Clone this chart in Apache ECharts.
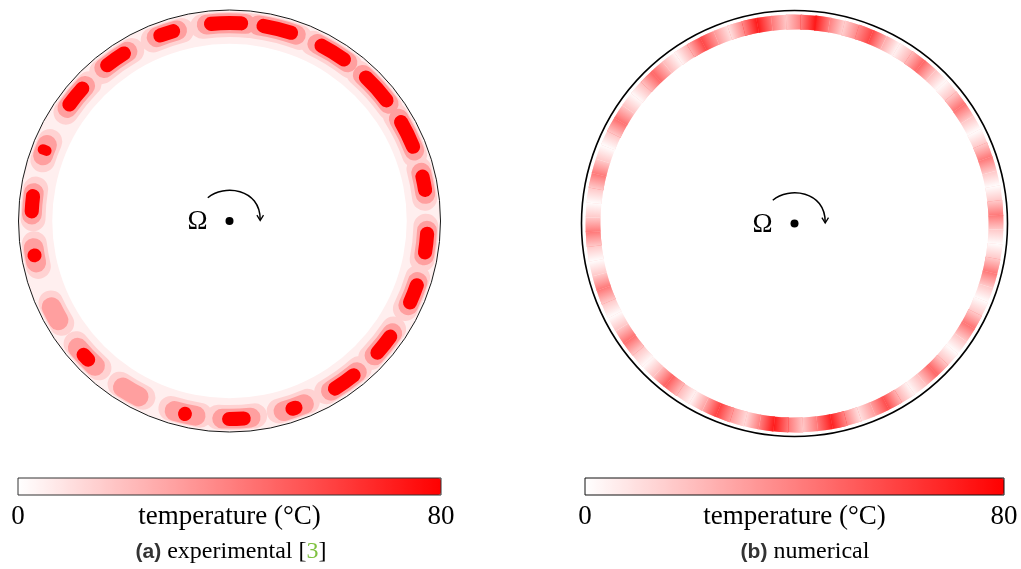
<!DOCTYPE html>
<html>
<head>
<meta charset="utf-8">
<script src="https://cdn.jsdelivr.net/npm/echarts@6/dist/echarts.min.js"></script>
<style>
html,body{margin:0;padding:0;background:#ffffff;}
#main{width:1021px;height:569px;}
</style>
</head>
<body>
<div id="main"></div>
<script>
// ================= DATA =================
const tempMin = 0;
const tempMax = 80;
const tickInterval = 80;
const colorbarName = 'temperature (°C)';
const rotationLabel = 'Ω';

// (a) experimental: hot-spot centres (deg, clockwise from top) and angular widths (deg)
// of the contour levels; radii are normalised to the disk radius.
const expBlobAngle = [359, 14, 31.5, 48, 64, 79, 96.4, 111.6, 128.7, 144.5, 161, 178, 193, 210, 226.5, 242, 260, 275, 291, 309, 324.8, 341.5];
const expCoreSpan  = [12.8, 12.3, 11.7, 13, 12, 8, 9.5, 9.4, 10, 10.7, 5, 8.3, 4, 0, 6, 0, 4, 8.5, 3, 10, 10, 8];
const expHaloSpan  = [17, 17, 16, 17, 16, 12, 13, 13, 14, 15, 12, 14, 12, 11, 13, 10, 10, 12, 9, 14, 14, 12];
const expOuterSpan = [21, 21, 20, 21, 20, 16, 17, 17, 18, 19, 16, 18, 16, 15, 17, 14, 14, 16, 13, 18, 18, 16];
const expLevelTemp = [5, 14, 30, 80];            // band, outer halo, halo, core
const expBandRadius  = [0.84, 0.998];
const expOuterRadius = [0.872, 0.99];
const expHaloRadius  = [0.89, 0.984];
const expCoreRadius  = [0.905, 0.972];

// (b) numerical: temperature sampled evenly around the ring, starting at numStartAngle
const numStartAngle = 5.8;
const numTemps = [
  72, 40, 15, 36,   58, 26, 4, 22,   48, 20, 2, 18,   44, 18, 1, 17,
  42, 17, 1, 17,    42, 17, 1, 17,   42, 17, 1, 17,   44, 18, 1, 18,
  48, 20, 3, 24,    56, 30, 10, 38,  70, 42, 18, 42,  72, 40, 12, 32,
  60, 28, 4, 22,    50, 20, 2, 18,   45, 18, 1, 17,   42, 17, 1, 17,
  42, 17, 1, 17,    42, 17, 1, 18,   45, 19, 2, 20,   48, 22, 3, 25,
  58, 32, 10, 38,   72, 42, 18, 40
];
const numRingRadius = [0.911, 0.981];
const centerPoint = [[0, 0]];

// ================= BUILD SERIES DATA =================
function norm(a) { return ((a % 360) + 360) % 360; }

const expData = [];
expData.push([expBandRadius[0], 0, expBandRadius[1], 360, expLevelTemp[0]]);
[[expOuterSpan, expOuterRadius, expLevelTemp[1]],
 [expHaloSpan, expHaloRadius, expLevelTemp[2]],
 [expCoreSpan, expCoreRadius, expLevelTemp[3]]].forEach(function (lvl) {
  expBlobAngle.forEach(function (c, i) {
    const w = lvl[0][i];
    if (w > 0) expData.push([lvl[1][0], norm(c - w / 2), lvl[1][1], norm(c + w / 2), lvl[2]]);
  });
});

const numStep = 360 / numTemps.length;
const numBase = [], numOver = [];
numTemps.forEach(function (t, k) {
  const a0 = norm(numStartAngle + k * numStep);
  const a1 = norm(numStartAngle + (k + 1) * numStep);
  const tNext = numTemps[(k + 1) % numTemps.length];
  numBase.push([numRingRadius[0], a0, numRingRadius[1], a1, tNext]);
  numOver.push([numRingRadius[0], a0, numRingRadius[1], a1, t]);
});

// ================= RENDERING =================
function sectorShape(params, api) {
  const cs = params.coordSys;
  const pA = api.coord([api.value(0), api.value(1)]);
  const pB = api.coord([api.value(2), api.value(3)]);
  const r0 = Math.hypot(pA[0] - cs.cx, pA[1] - cs.cy);
  const r = Math.hypot(pB[0] - cs.cx, pB[1] - cs.cy);
  const sa = Math.atan2(pA[1] - cs.cy, pA[0] - cs.cx);
  let ea = Math.atan2(pB[1] - cs.cy, pB[0] - cs.cx);
  const span = norm(api.value(3) - api.value(1));
  if (span === 0) { ea = sa + 2 * Math.PI; }
  else { while (ea <= sa) ea += 2 * Math.PI; }
  return { cx: cs.cx, cy: cs.cy, r0: r0, r: r, startAngle: sa, endAngle: ea, clockwise: true };
}

function renderBlob(params, api) {
  const shape = sectorShape(params, api);
  shape.cornerRadius = (shape.r - shape.r0) / 2;
  if (api.value(4) === expLevelTemp[0]) shape.cornerRadius = 0;
  return { type: 'sector', shape: shape, style: { fill: api.visual('color') } };
}

// opaque layer: colour of the segment's end sample (slightly overlapping the next segment)
function renderBase(params, api) {
  const shape = sectorShape(params, api);
  shape.endAngle += 0.006;
  return { type: 'sector', shape: shape, style: { fill: api.visual('color') } };
}

// overlay: colour of the segment's start sample fading out towards its end
function renderOver(params, api) {
  const shape = sectorShape(params, api);
  const c = api.visual('color');
  const rm = (shape.r + shape.r0) / 2;
  const x1 = shape.cx + rm * Math.cos(shape.startAngle), y1 = shape.cy + rm * Math.sin(shape.startAngle);
  const x2 = shape.cx + rm * Math.cos(shape.endAngle), y2 = shape.cy + rm * Math.sin(shape.endAngle);
  const grad = new echarts.graphic.LinearGradient(x1, y1, x2, y2, [
    { offset: 0, color: c },
    { offset: 1, color: echarts.color.modifyAlpha(c, 0) }
  ], true);
  return { type: 'sector', shape: shape, style: { fill: grad } };
}

const serif = 'Liberation Serif';
const labelStyle = { fontFamily: serif, fontSize: 27, color: '#000' };

function omegaArrow(cx, cy) {
  return [
    { type: 'text', x: cx - 32, y: cy + 1, z: 100,
      style: { text: rotationLabel, fontFamily: serif, fontSize: 27, fill: '#000', align: 'center', verticalAlign: 'middle' } },
    { type: 'bezierCurve', x: cx, y: cy, z: 100,
      shape: { x1: -21.7, y1: -23.3, cpx1: -6, cpy1: -37, cpx2: 31, cpy2: -33, x2: 30.7, y2: -1 },
      style: { fill: null, stroke: '#000', lineWidth: 1.5 } },
    { type: 'polyline', x: cx, y: cy, z: 100,
      shape: { points: [[27.4, -5.8], [30.7, -0.4], [34, -5.8]] },
      style: { fill: null, stroke: '#000', lineWidth: 1.3 } }
  ];
}

const leftC = [229.5, 221], rightC = [794.5, 223.5];

function colorAxis(gi) {
  return {
    gridIndex: gi, type: 'value', min: tempMin, max: tempMax, interval: tickInterval,
    axisLine: { show: false }, axisTick: { show: false }, splitLine: { show: false },
    axisLabel: Object.assign({ margin: 8 }, labelStyle),
    name: colorbarName, nameLocation: 'middle', nameGap: 8, nameMoveOverlap: false,
    nameTextStyle: Object.assign({ verticalAlign: 'top' }, labelStyle)
  };
}

function angleAx(pi, color, width) {
  return {
    polarIndex: pi, type: 'value', min: 0, max: 360, startAngle: 90, clockwise: true, z: 5,
    axisLine: { show: true, lineStyle: { color: color, width: width } },
    axisTick: { show: false }, axisLabel: { show: false }, splitLine: { show: false }
  };
}

function vmap(seriesIndex, left, length) {
  return {
    type: 'continuous', seriesIndex: seriesIndex, dimension: 4, min: tempMin, max: tempMax,
    orient: 'horizontal', left: left, top: 478, itemWidth: 17, itemHeight: length, padding: 0,
    calculable: false, hoverLink: false, inRange: { color: ['#ffffff', '#ff0000'] }
  };
}

const dotStyle = { color: '#000000', opacity: 1 };

const chart = echarts.init(document.getElementById('main'), null, { renderer: 'canvas' });
chart.setOption({
  backgroundColor: '#ffffff',
  animation: false,
  polar: [
    { center: leftC, radius: 211 },
    { center: rightC, radius: 213 }
  ],
  angleAxis: [angleAx(0, '#1a1a1a', 1), angleAx(1, '#000000', 1.6)],
  radiusAxis: [
    { polarIndex: 0, type: 'value', min: 0, max: 1, show: false },
    { polarIndex: 1, type: 'value', min: 0, max: 1, show: false }
  ],
  grid: [
    { left: 18, top: 478, width: 423, height: 17, show: true, borderColor: '#333', borderWidth: 1, backgroundColor: 'rgba(0,0,0,0)', z: 10 },
    { left: 585, top: 478, width: 419, height: 17, show: true, borderColor: '#111', borderWidth: 1, backgroundColor: 'rgba(0,0,0,0)', z: 10 }
  ],
  xAxis: [colorAxis(0), colorAxis(1)],
  yAxis: [
    { gridIndex: 0, type: 'value', min: 0, max: 1, show: false },
    { gridIndex: 1, type: 'value', min: 0, max: 1, show: false }
  ],
  visualMap: [vmap(0, 18, 423), vmap([1, 2], 585, 419)],
  series: [
    { type: 'custom', coordinateSystem: 'polar', polarIndex: 0, renderItem: renderBlob, data: expData, silent: true },
    { type: 'custom', coordinateSystem: 'polar', polarIndex: 1, renderItem: renderBase, data: numBase, silent: true },
    { type: 'custom', coordinateSystem: 'polar', polarIndex: 1, renderItem: renderOver, data: numOver, silent: true },
    { type: 'scatter', coordinateSystem: 'polar', polarIndex: 0, data: centerPoint, symbolSize: 8, itemStyle: dotStyle, silent: true, z: 10 },
    { type: 'scatter', coordinateSystem: 'polar', polarIndex: 1, data: centerPoint, symbolSize: 8, itemStyle: dotStyle, silent: true, z: 10 }
  ],
  graphic: [].concat(
    omegaArrow(leftC[0], leftC[1]),
    omegaArrow(rightC[0], rightC[1]),
    [
      { type: 'text', x: 231, y: 552, z: 100,
        style: {
          text: '{b|(a)} {t|experimental [}{g|3}{t|]}', align: 'center', verticalAlign: 'middle',
          fontFamily: serif, fontSize: 24,
          rich: {
            b: { fontFamily: 'Liberation Sans', fontWeight: 'bold', fontSize: 21, fill: '#333' },
            t: { fontFamily: serif, fontSize: 24, fill: '#000' },
            g: { fontFamily: serif, fontSize: 24, fill: '#7fc241' }
          }
        } },
      { type: 'text', x: 805, y: 552, z: 100,
        style: {
          text: '{b|(b)} {t|numerical}', align: 'center', verticalAlign: 'middle',
          fontFamily: serif, fontSize: 24,
          rich: {
            b: { fontFamily: 'Liberation Sans', fontWeight: 'bold', fontSize: 21, fill: '#333' },
            t: { fontFamily: serif, fontSize: 24, fill: '#000' }
          }
        } }
    ]
  )
});
</script>
</body>
</html>
